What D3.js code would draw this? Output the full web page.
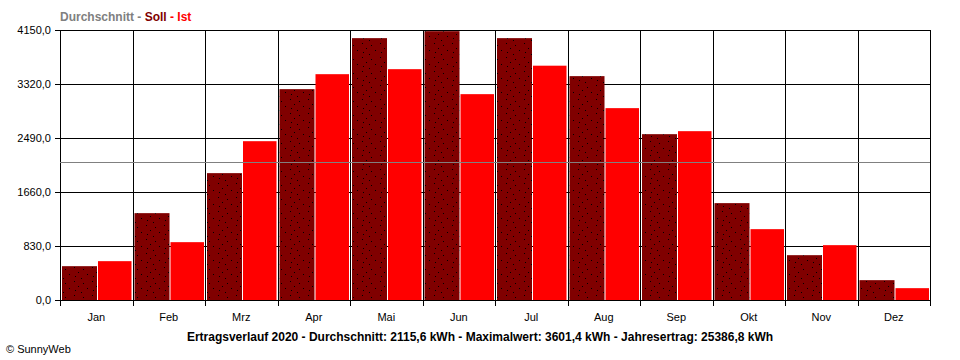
<!DOCTYPE html>
<html><head><meta charset="utf-8">
<script src="https://cdn.jsdelivr.net/npm/d3@7"></script>
<style>body{margin:0;background:#fff}svg{display:block}text{font-family:"Liberation Sans",Arial,sans-serif}</style>
</head><body><svg id="c" width="960" height="360"></svg>
<script>
const months = ["Jan","Feb","Mrz","Apr","Mai","Jun","Jul","Aug","Sep","Okt","Nov","Dez"];
const soll = [520,1335,1950,3241,4025,4132,4025,3441,2549,1489,689,305];
const ist = [597,889,2441,3471,3548,3164,3601.4,2949,2595,1089,843,182];
const average = 2115.6;
const yTicks = [0,830,1660,2490,3320,4150];
const title = "Ertragsverlauf 2020 - Durchschnitt: 2115,6 kWh - Maximalwert: 3601,4 kWh - Jahresertrag: 25386,8 kWh";

const svg = d3.select("#c");
const L=60, R=930, T=30, B=300;
const x = d3.scaleBand().domain(months).range([L,R]).paddingInner(0).paddingOuter(0);
const y = d3.scaleLinear().domain([0,4150]).range([B,T]);
const fmt = v => d3.format(".1f")(v).replace(".",",");

// pattern
const defs = svg.append("defs");
const pat = defs.append("pattern").attr("id","dots").attr("patternUnits","userSpaceOnUse")
  .attr("width",18).attr("height",14);
pat.append("rect").attr("width",18).attr("height",14).attr("fill","#800000");
[[2,1],[11,3],[6,6],[15,8],[3,10],[9,12]].forEach(([a,b])=>pat.append("rect").attr("x",a).attr("y",b).attr("width",1).attr("height",1).attr("fill","#000"));

// horizontal grid + y axis (under bars)
const yAxis = d3.axisLeft(y).tickValues(yTicks).tickSize(-(R-L)).tickFormat(fmt).tickPadding(8);
const gy = svg.append("g").attr("transform",`translate(${L},0)`).call(yAxis);
gy.select(".domain").remove();
gy.selectAll(".tick").attr("transform",d=>`translate(0,${Math.round(y(d))+0.5})`);
gy.selectAll(".tick line").attr("stroke","#000").attr("x1",-5);
gy.selectAll(".tick text").attr("font-size",11).attr("fill","#000").attr("x",-9).attr("dy","0.35em");

// vertical grid lines at band boundaries
const bounds = months.map(m=>x(m)).concat([R]);
svg.append("g").selectAll("line").data(bounds).join("line")
  .attr("x1",d=>Math.round(d)+0.5).attr("x2",d=>Math.round(d)+0.5)
  .attr("y1",T).attr("y2",B+6).attr("stroke","#000");

// bars
const bw = x.bandwidth();
svg.append("g").selectAll("rect").data(months).join("rect")
  .attr("x",d=>x(d)+2).attr("width",35)
  .attr("y",(d,i)=>y(soll[i])).attr("height",(d,i)=>B-y(soll[i]))
  .attr("fill","url(#dots)");
svg.append("g").selectAll("rect").data(months).join("rect")
  .attr("x",d=>x(d)+38).attr("width",bw-39)
  .attr("y",(d,i)=>y(ist[i])).attr("height",(d,i)=>B-y(ist[i]))
  .attr("fill","#ff0000");

// x axis line
svg.append("line").attr("x1",L-5).attr("x2",R+1).attr("y1",B+0.5).attr("y2",B+0.5).attr("stroke","#000");

// average line (over bars)
svg.append("line").attr("x1",L).attr("x2",R).attr("y1",Math.round(y(average))+0.5).attr("y2",Math.round(y(average))+0.5).attr("stroke","#808080");

// month labels
svg.append("g").selectAll("text").data(months).join("text")
  .attr("x",d=>x(d)+bw/2).attr("y",321).attr("text-anchor","middle").attr("font-size",11).text(d=>d);

// title
svg.append("text").attr("x",480).attr("y",341).attr("text-anchor","middle").attr("font-size",12).attr("font-weight","bold").text(title);

// legend
const lg = svg.append("text").attr("x",60).attr("y",21).attr("font-size",12).attr("font-weight","bold");
lg.append("tspan").attr("fill","#808080").text("Durchschnitt - ");
lg.append("tspan").attr("fill","#800000").text("Soll");
lg.append("tspan").attr("fill","#ff0000").text(" - Ist");

// copyright
svg.append("text").attr("x",6).attr("y",353).attr("font-size",11).text("© SunnyWeb");
</script></body></html>
